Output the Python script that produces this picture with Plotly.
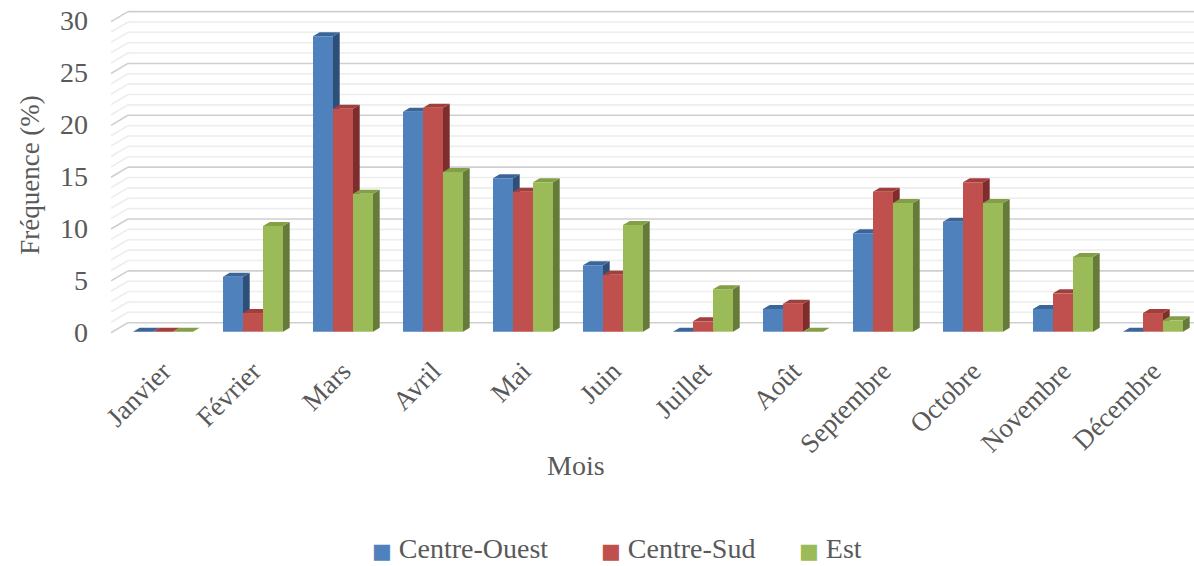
import plotly.graph_objects as go

months = ["Janvier", "Février", "Mars", "Avril", "Mai", "Juin", "Juillet",
          "Août", "Septembre", "Octobre", "Novembre", "Décembre"]
centre_ouest = [0, 5.3, 28.5, 21.2, 14.8, 6.4, 0, 2.2, 9.5, 10.6, 2.2, 0]
centre_sud = [0, 1.8, 21.5, 21.6, 13.5, 5.5, 1.0, 2.7, 13.5, 14.4, 3.7, 1.8]
est = [0, 10.2, 13.3, 15.4, 14.4, 10.3, 4.1, 0, 12.4, 12.4, 7.2, 1.1]
y_ticks = [0, 5, 10, 15, 20, 25, 30]

series = [
    ("Centre-Ouest", centre_ouest, "#4F81BD", "#3A6598", "#2E4F78"),
    ("Centre-Sud", centre_sud, "#C0504D", "#A03F3C", "#7D2E2C"),
    ("Est", est, "#9BBB59", "#839F47", "#667A39"),
]
legend_centers_px = [460, 678, 830]

W = 1194
H = 566
ML, MR, MT, MB = 111, 0, 5, 221
px_per_cat = 90.0
x_center0 = 163.0
x0 = (ML - x_center0) / px_per_cat
x1 = (W - MR - x_center0) / px_per_cat
px_per_unit = 10.37
base_px = 331.7
y_top = (base_px - MT) / px_per_unit
y_bot = (base_px - (H - MB)) / px_per_unit

bw = 20.0 / px_per_cat
dx = 6.7 / px_per_cat
dy = 4.0 / px_per_unit
offsets = [-1.5 * bw, -0.5 * bw, 0.5 * bw]

font_fam = "Liberation Serif"
txt_col = "#595959"

fig = go.Figure()
xs = list(range(len(months)))
for k, (name, vals, c, ctop, cside) in enumerate(series):
    fig.add_trace(go.Bar(
        x=xs, y=vals, name=name, width=bw, offset=offsets[k],
        marker=dict(color=c, line=dict(width=0)), showlegend=False,
    ))

shapes = []
wall_dx0 = 17.0 / px_per_cat
for v in range(0, 31):
    major = (v % 5 == 0)
    col = "#CFCFCF" if major else "#EDEDED"
    vf = v - 0.1
    vb = v + 0.87
    shapes.append(dict(type="line", xref="x", yref="y", x0=x0, y0=vf,
                       x1=x0 + wall_dx0, y1=vb, line=dict(color=col, width=1.6),
                       layer="below"))
    shapes.append(dict(type="line", xref="x", yref="y", x0=x0 + wall_dx0, y0=vb,
                       x1=x1 + 0.5, y1=vb, line=dict(color=col, width=1.6),
                       layer="below"))

for i in xs:
    for k, (name, vals, c, ctop, cside) in enumerate(series):
        v = vals[i]
        xl = i + offsets[k]
        xr = xl + bw
        side = (f"M {xr},0 L {xr+dx},{dy} L {xr+dx},{v+dy} L {xr},{v} Z")
        top = (f"M {xl},{v} L {xr},{v} L {xr+dx},{v+dy} L {xl+dx},{v+dy} Z")
        shapes.append(dict(type="path", xref="x", yref="y", path=side,
                           fillcolor=cside, line=dict(width=0), layer="below"))
        shapes.append(dict(type="path", xref="x", yref="y", path=top,
                           fillcolor=ctop, line=dict(width=0), layer="below"))

plot_w = W - ML - MR
plot_h = H - MB - MT
annotations = [dict(text="Mois", xref="paper", yref="paper",
                    x=(576 - ML) / plot_w, y=((H - MB) - 465) / plot_h,
                    xanchor="center", yanchor="middle", showarrow=False,
                    font=dict(family=font_fam, size=28, color=txt_col))]
# legend (square + label)
for (name, vals, c, ctop, cside), cx in zip(series, legend_centers_px):
    annotations.append(dict(
        text=(f"<span style='color:{c};font-family:DejaVu Sans;font-size:21px'>■</span>"
              f" {name}"),
        xref="paper", yref="paper",
        x=(cx - ML) / plot_w, y=((H - MB) - 548) / plot_h,
        xanchor="center", yanchor="middle", showarrow=False,
        font=dict(family=font_fam, size=28, color=txt_col)))

fig.update_layout(
    width=W, height=H,
    margin=dict(l=ML, r=MR, t=MT, b=MB),
    paper_bgcolor="white", plot_bgcolor="rgba(0,0,0,0)",
    font=dict(family=font_fam, size=27, color=txt_col),
    shapes=shapes,
    barmode="overlay",
    showlegend=False,
    xaxis=dict(range=[x0, x1], tickmode="array", tickvals=xs, ticktext=months,
               tickangle=-45, showgrid=False, zeroline=False, showline=False,
               ticks="", ticklabelstandoff=4,
               tickfont=dict(family=font_fam, size=27, color=txt_col)),
    yaxis=dict(range=[y_bot, y_top], tickmode="array", tickvals=y_ticks,
               showgrid=False, zeroline=False, showline=False, ticks="",
               ticklabelstandoff=22,
               tickfont=dict(family=font_fam, size=28, color=txt_col),
               title=dict(text="Fréquence (%)", standoff=12,
                          font=dict(family=font_fam, size=27, color=txt_col))),
    annotations=annotations,
)

fig.write_html("out.html")
